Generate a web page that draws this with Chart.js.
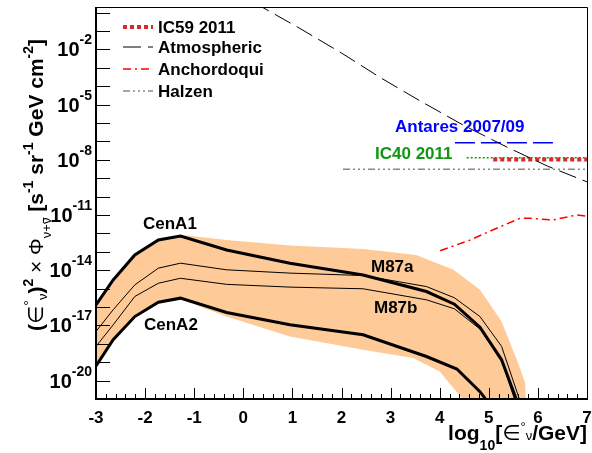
<!DOCTYPE html>
<html>
<head>
<meta charset="utf-8">
<script src="https://cdn.jsdelivr.net/npm/chart.js@4"></script>
<style>
  body { margin: 0; background: #fff; }
  canvas { display: block; }
</style>
</head>
<body>
<canvas id="canvas" width="592" height="453"></canvas>
<script>
// x values are log10(E/GeV), y values are log10 of the flux
const cenA1E   = [-3, -2.65, -2.21, -1.73, -1.28, -0.34, 0.95, 2.44, 3.73, 4.3, 4.82, 5.26, 5.6];
const cenA1Log = [-15.88, -14.53, -13.17, -12.36, -12.14, -12.9, -13.62, -14.26, -15.16, -15.85, -17.1, -18.87, -21.3];

const m87aE   = [-3, -2.65, -2.21, -1.73, -1.28, -0.34, 0.95, 2.44, 3.73, 4.3, 4.82, 5.26, 5.66];
const m87aLog = [-17.33, -16.15, -14.8, -13.89, -13.62, -13.98, -14.16, -14.29, -14.89, -15.5, -16.52, -18.14, -21.3];

const m87bE   = [-3, -2.65, -2.21, -1.73, -1.28, -0.34, 0.95, 2.44, 3.73, 4.3, 4.82, 5.26, 5.56];
const m87bLog = [-18.14, -16.97, -15.43, -14.71, -14.44, -14.77, -14.92, -15.01, -15.61, -16.1, -17.2, -18.9, -21.3];

const cenA2E   = [-3, -2.65, -2.21, -1.73, -1.28, -0.34, 0.95, 2.44, 3.73, 4.35, 4.82, 5.02];
const cenA2Log = [-19.2, -17.78, -16.52, -15.74, -15.52, -16.3, -16.97, -17.51, -18.69, -19.37, -20.6, -21.3];

const bandTopE   = [-3, -2.65, -2.21, -1.73, -1.28, -0.34, 0.95, 2.44, 3.52, 4.28, 4.82, 5.26, 5.57, 5.74, 5.76];
const bandTopLog = [-15.82, -14.47, -13.11, -12.3, -12.08, -12.36, -12.66, -12.85, -13.17, -13.98, -15.07, -16.79, -18.87, -20.1, -21.5];
const bandLowE   = [-3, -2.65, -2.21, -1.73, -1.28, -0.34, 0.95, 2.44, 3.46, 4.0, 4.45, 4.5];
const bandLowLog = [-19.26, -17.84, -16.58, -15.8, -15.58, -16.52, -17.6, -18.32, -18.77, -19.5, -20.94, -21.5];

const atmE   = [0.2, 1.15, 2.0, 2.8, 3.6, 4.5, 5.4, 6.2, 7.0];
const atmLog = [0.57, -0.86, -2.2, -3.55, -4.8, -6.15, -7.35, -8.35, -9.2];

const anchE   = [4.01, 4.62, 5.16, 5.64, 5.84, 6.31, 6.79, 7.0];
const anchLog = [-12.94, -12.36, -11.72, -11.18, -11.18, -11.27, -11.0, -11.06];

const halzenE   = [2.03, 7.0];
const halzenLog = [-8.52, -8.52];
const ic40E     = [4.55, 7.0];
const ic40Log   = [-7.89, -7.89];
const ic59E     = [5.09, 7.0];
const ic59Log   = [-7.98, -7.98];
const antaresE   = [4.31, 6.38];
const antaresLog = [-7.08, -7.08];

const xTicks = [-3, -2, -1, 0, 1, 2, 3, 4, 5, 6, 7];
const yLabelExps = [-2, -5, -8, -11, -14, -17, -20];

const legendNames = ['IC59 2011', 'Atmospheric', 'Anchordoqui', 'Halzen'];

function pts(xs, ys) {
    return xs.map((x, i) => ({x: x, y: Math.pow(10, ys[i])}));
}

const styleIC59 = {borderColor: '#d42c2c', borderWidth: 4, borderDash: [4, 3]};
const styleAtm = {borderColor: '#000000', borderWidth: 1, borderDash: [18, 7]};
const styleAnch = {borderColor: '#ff0000', borderWidth: 1.5, borderDash: [8, 4, 2, 4]};
const styleHalzen = {borderColor: '#888888', borderWidth: 1.5, borderDash: [7, 3, 2, 3, 2, 3, 2, 3]};
const styleIC40 = {borderColor: '#129612', borderWidth: 1.5, borderDash: [2, 2]};
const styleAntares = {borderColor: '#0000ff', borderWidth: 1.5, borderDash: [20, 6]};

function lineSet(label, data, style, order) {
    return Object.assign({
        label: label,
        data: data,
        fill: false,
        pointRadius: 0,
        tension: 0,
        borderCapStyle: 'butt',
        order: order
    }, style);
}

const FONT = '"Liberation Sans", "DejaVu Sans", Arial, sans-serif';

function fontOf(p) {
    return (p.b === false ? '' : 'bold ') + p.s + 'px ' + FONT;
}

function richWidth(ctx, parts) {
    let w = 0;
    parts.forEach(p => { ctx.font = fontOf(p); w += ctx.measureText(p.t).width; });
    return w;
}

function drawRich(ctx, parts, x, y) {
    parts.forEach(p => {
        ctx.font = fontOf(p);
        const w = ctx.measureText(p.t).width;
        const yy = y + (p.dy || 0);
        ctx.fillText(p.t, x, yy);
        if (p.over) ctx.fillRect(x + 1, yy - p.s * 0.62, w - 1, 1);
        x += w;
    });
}

const yTitle = [
    {t: '(', s: 21}, {t: '\u2208', s: 21, b: false}, {t: '\u00b0', s: 14, dy: -9, b: false},
    {t: '\u03bd', s: 13, dy: 4, b: false}, {t: ')', s: 21}, {t: '2', s: 14, dy: -10},
    {t: ' \u00d7 ', s: 21, b: false}, {t: '\u03a6', s: 21, b: false},
    {t: '\u03bd+', s: 13, dy: 8, b: false}, {t: '\u03bd', s: 13, dy: 8, b: false, over: true},
    {t: ' [s', s: 21}, {t: '-1', s: 14, dy: -10}, {t: ' sr', s: 21}, {t: '-1', s: 14, dy: -10},
    {t: ' GeV cm', s: 21}, {t: '-2', s: 14, dy: -10}, {t: ']', s: 21}
];

const xTitle = [
    {t: 'log', s: 21}, {t: '10', s: 14, dy: 10}, {t: '[', s: 21}, {t: '\u2208', s: 21, b: false},
    {t: '\u00b0', s: 13, dy: -9, b: false}, {t: '\u03bd', s: 13, dy: 0, b: false}, {t: '/GeV]', s: 21}
];

const rootPlugin = {
    id: 'rootStyle',
    afterDatasetsDraw(chart) {
        const ctx = chart.ctx;
        ctx.save();
        ctx.textBaseline = 'alphabetic';
        ctx.textAlign = 'left';
        ctx.font = 'bold 17px ' + FONT;
        ctx.fillStyle = '#0000ff';
        ctx.fillText('Antares 2007/09', 395, 132);
        ctx.fillStyle = '#129612';
        ctx.fillText('IC40 2011', 375, 159);
        ctx.fillStyle = '#000';
        ctx.fillText('CenA1', 143, 229);
        ctx.fillText('CenA2', 144, 330);
        ctx.fillText('M87a', 371, 272);
        ctx.fillText('M87b', 374, 313);
        ctx.restore();
    },
    afterDraw(chart) {
        const ctx = chart.ctx;
        const a = chart.chartArea;
        const xs = chart.scales.x;
        const ys = chart.scales.y;
        ctx.save();
        ctx.fillStyle = '#000';
        ctx.strokeStyle = '#000';
        ctx.setLineDash([]);

        // frame
        ctx.lineWidth = 1;
        ctx.beginPath();
        ctx.moveTo(a.left, a.top + 0.5);
        ctx.lineTo(a.right + 0.5, a.top + 0.5);
        ctx.lineTo(a.right + 0.5, a.bottom);
        ctx.stroke();
        ctx.lineWidth = 2;
        ctx.beginPath();
        ctx.moveTo(a.left, a.top);
        ctx.lineTo(a.left, a.bottom);
        ctx.lineTo(a.right + 1, a.bottom);
        ctx.stroke();

        // y ticks, one per decade, pointing inwards
        ctx.lineWidth = 1;
        ctx.beginPath();
        for (let e = -21; e <= 0; e++) {
            const py = Math.round(ys.getPixelForValue(Math.pow(10, e))) + 0.5;
            ctx.moveTo(a.left, py);
            ctx.lineTo(a.left + 14, py);
        }
        // x ticks, major every 1, minor every 0.2
        for (let i = 0; i <= 50; i++) {
            const v = -3 + i * 0.2;
            const px = Math.round(xs.getPixelForValue(v)) + 0.5;
            const len = (i % 5 === 0) ? 11 : 5;
            ctx.moveTo(px, a.bottom);
            ctx.lineTo(px, a.bottom - len);
        }
        ctx.stroke();

        // y labels 10^n
        ctx.textBaseline = 'alphabetic';
        ctx.textAlign = 'left';
        yLabelExps.forEach(e => {
            const py = ys.getPixelForValue(Math.pow(10, e));
            const parts = [{t: '10', s: 20}, {t: String(e), s: 14, dy: -12}];
            const w = richWidth(ctx, parts);
            drawRich(ctx, parts, 92 - w, py + 7);
        });

        // x labels
        ctx.textAlign = 'center';
        ctx.font = 'bold 17px ' + FONT;
        xTicks.forEach(v => {
            ctx.fillText(String(v), xs.getPixelForValue(v), 423);
        });

        // axis titles
        ctx.textAlign = 'left';
        const xw = richWidth(ctx, xTitle);
        drawRich(ctx, xTitle, a.right - xw, 440);

        ctx.save();
        ctx.translate(43, 331);
        ctx.rotate(-Math.PI / 2);
        drawRich(ctx, yTitle, 0, 0);
        ctx.restore();

        // legend
        const legendStyles = [styleIC59, styleAtm, styleAnch, styleHalzen];
        const legendY = [27, 47, 69, 91];
        legendNames.forEach((name, i) => {
            const st = legendStyles[i];
            ctx.strokeStyle = st.borderColor;
            ctx.lineWidth = st.borderWidth;
            ctx.setLineDash(st.borderDash);
            ctx.beginPath();
            ctx.moveTo(123, legendY[i]);
            ctx.lineTo(153, legendY[i]);
            ctx.stroke();
            ctx.setLineDash([]);
            ctx.fillStyle = '#000';
            ctx.textBaseline = 'middle';
            ctx.font = 'bold 17px ' + FONT;
            ctx.fillText(name, 158, legendY[i] + 1);
        });
        ctx.restore();
    }
};

const bandData = pts(bandTopE, bandTopLog).concat(pts(bandLowE, bandLowLog).reverse());

const datasets = [
    {
        label: 'band',
        data: bandData,
        fill: 'shape',
        backgroundColor: '#fdca98',
        borderColor: 'rgba(0,0,0,0)',
        borderWidth: 0,
        pointRadius: 0,
        tension: 0,
        order: 20
    },
    lineSet('CenA1', pts(cenA1E, cenA1Log), {borderColor: '#000', borderWidth: 3}, 9),
    lineSet('M87a', pts(m87aE, m87aLog), {borderColor: '#000', borderWidth: 1}, 10),
    lineSet('M87b', pts(m87bE, m87bLog), {borderColor: '#000', borderWidth: 1}, 10),
    lineSet('CenA2', pts(cenA2E, cenA2Log), {borderColor: '#000', borderWidth: 3}, 9),
    lineSet('Atmospheric', pts(atmE, atmLog), styleAtm, 1),
    lineSet('Anchordoqui', pts(anchE, anchLog), styleAnch, 5),
    lineSet('Halzen', pts(halzenE, halzenLog), styleHalzen, 5),
    lineSet('IC40 2011', pts(ic40E, ic40Log), styleIC40, 4),
    lineSet('IC59 2011', pts(ic59E, ic59Log), styleIC59, 3),
    lineSet('Antares 2007/09', pts(antaresE, antaresLog), styleAntares, 2)
];

const ctx = document.getElementById('canvas').getContext('2d');
window.chart = new Chart(ctx, {
    type: 'line',
    data: {datasets: datasets},
    options: {
        responsive: false,
        animation: false,
        events: [],
        layout: {padding: {left: 96, right: 5, top: 7, bottom: 54}},
        plugins: {
            legend: {display: false},
            tooltip: {enabled: false}
        },
        scales: {
            x: {type: 'linear', min: -3, max: 7, display: false},
            y: {type: 'logarithmic', min: 1e-21, max: 2, display: false}
        }
    },
    plugins: [rootPlugin]
});
</script>
</body>
</html>
